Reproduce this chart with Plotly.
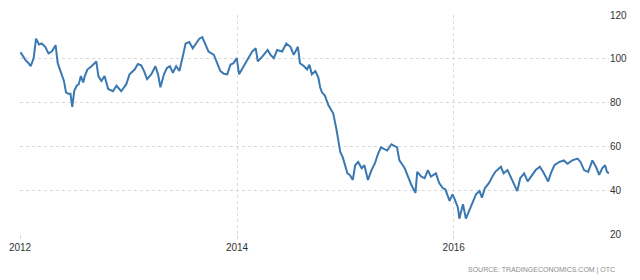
import plotly.graph_objects as go

dates = [
    "2012-01-03", "2012-01-09", "2012-01-19", "2012-01-30", "2012-02-06", "2012-02-16", "2012-02-24",
    "2012-03-05", "2012-03-14", "2012-03-26", "2012-04-06", "2012-04-17", "2012-04-30", "2012-05-07",
    "2012-05-18", "2012-05-28", "2012-06-04", "2012-06-12", "2012-06-19", "2012-06-25", "2012-07-02",
    "2012-07-10", "2012-07-17", "2012-07-24", "2012-08-01", "2012-08-06", "2012-08-15", "2012-08-29",
    "2012-09-14", "2012-09-21", "2012-10-01", "2012-10-12", "2012-10-24", "2012-11-09", "2012-11-21",
    "2012-12-07", "2012-12-24", "2013-01-04", "2013-01-21", "2013-02-01", "2013-02-12", "2013-02-22",
    "2013-03-04", "2013-03-18", "2013-04-01", "2013-04-10", "2013-04-18", "2013-04-30", "2013-05-10",
    "2013-05-20", "2013-05-30", "2013-06-10", "2013-06-21", "2013-07-02", "2013-07-12", "2013-07-24",
    "2013-08-05", "2013-08-16", "2013-08-27", "2013-09-06", "2013-09-17", "2013-09-27", "2013-10-15",
    "2013-10-25", "2013-11-06", "2013-11-18", "2013-11-29", "2013-12-10", "2013-12-20", "2013-12-31",
    "2014-01-08", "2014-01-20", "2014-01-30", "2014-02-10", "2014-02-21", "2014-03-05", "2014-03-12",
    "2014-03-27", "2014-04-14", "2014-04-24", "2014-05-05", "2014-05-16", "2014-06-02", "2014-06-16",
    "2014-06-30", "2014-07-11", "2014-07-25", "2014-08-01", "2014-08-15", "2014-08-25", "2014-09-02",
    "2014-09-10", "2014-09-22", "2014-10-02", "2014-10-08", "2014-10-14", "2014-10-24", "2014-11-05",
    "2014-11-17", "2014-11-21", "2014-12-02", "2014-12-08", "2014-12-15", "2014-12-23", "2014-12-31",
    "2015-01-08", "2015-01-16", "2015-01-26", "2015-02-03", "2015-02-13", "2015-02-25", "2015-03-06",
    "2015-03-18", "2015-03-30", "2015-04-10", "2015-04-21", "2015-05-01", "2015-05-13", "2015-05-22",
    "2015-06-05", "2015-06-16", "2015-06-24", "2015-07-02", "2015-07-20", "2015-07-31", "2015-08-11",
    "2015-08-25", "2015-08-31", "2015-09-14", "2015-09-25", "2015-10-06", "2015-10-16", "2015-11-02",
    "2015-11-13", "2015-11-25", "2015-12-04", "2015-12-18", "2015-12-28", "2016-01-04", "2016-01-15",
    "2016-01-20", "2016-02-01", "2016-02-11", "2016-02-22", "2016-03-04", "2016-03-16", "2016-03-28",
    "2016-04-05", "2016-04-15", "2016-04-29", "2016-05-10", "2016-05-20", "2016-06-08", "2016-06-17",
    "2016-06-30", "2016-07-11", "2016-07-22", "2016-08-02", "2016-08-12", "2016-08-25", "2016-09-06",
    "2016-09-22", "2016-10-03", "2016-10-17", "2016-10-28", "2016-11-14", "2016-11-23", "2016-12-05",
    "2016-12-22", "2017-01-06", "2017-01-18", "2017-02-03", "2017-02-21", "2017-03-03", "2017-03-15",
    "2017-03-29", "2017-04-12", "2017-04-24", "2017-05-05", "2017-05-15", "2017-05-25", "2017-05-31",
    "2017-06-07",
]

prices = [
    103.0, 101.8, 99.5, 98.0, 96.6, 100.3, 109.2,
    106.5, 107.0, 105.5, 102.5, 103.3, 106.2, 98.0,
    93.6, 89.9, 84.7, 84.0, 84.0, 78.0, 85.5,
    87.7, 88.4, 92.1, 89.2, 92.0, 95.1, 96.6,
    98.8, 92.1, 89.9, 92.1, 86.2, 85.2, 87.7,
    85.2, 88.4, 92.9, 95.1, 97.6, 97.0, 94.4,
    90.7, 92.9, 96.6, 92.9, 87.0, 92.9, 95.8,
    96.6, 93.6, 96.6, 94.4, 100.3, 107.0, 107.7,
    104.8, 107.0, 109.2, 109.9, 106.2, 103.3, 101.8,
    98.0, 94.4, 93.2, 92.9, 97.3, 98.0, 100.3,
    92.9, 95.8, 98.0, 101.0, 103.3, 104.8, 98.8,
    101.0, 104.0, 101.8, 100.3, 104.0, 103.3, 107.0,
    105.5, 101.8, 105.5, 98.0, 96.6, 95.1, 97.3,
    92.9, 94.4, 91.4, 87.0, 84.7, 83.2, 78.8,
    75.9, 75.1, 67.7, 63.0, 57.3, 55.1, 51.4,
    47.7, 47.0, 44.7, 51.4, 52.9, 50.0, 51.4,
    44.7, 49.2, 52.1, 56.6, 59.6, 58.8, 58.1,
    61.0, 60.3, 59.6, 53.6, 50.0, 46.2, 42.5,
    38.8, 48.4, 46.2, 45.5, 49.2, 46.2, 47.7,
    43.3, 41.0, 40.3, 35.1, 38.1, 35.9, 32.1,
    27.0, 33.6, 27.0, 30.7, 34.4, 38.1, 39.6,
    36.6, 41.0, 43.3, 46.2, 48.4, 50.7, 47.7,
    49.2, 46.2, 43.3, 39.6, 45.5, 47.7, 44.0,
    47.0, 49.2, 50.7, 48.4, 44.0, 47.7, 51.4,
    52.9, 53.6, 52.1, 53.6, 54.4, 52.9, 49.2,
    48.4, 53.6, 50.7, 47.0, 50.0, 51.4, 48.4,
    47.7,
]

y_ticks = [20, 40, 60, 80, 100, 120]
x_ticks = ["2012-01-01", "2014-01-01", "2016-01-01"]
x_labels = ["2012", "2014", "2016"]
source_text = "SOURCE: TRADINGECONOMICS.COM | OTC"

FONT = "Liberation Sans, Arial, sans-serif"
GRID = "#d9d9d9"

fig = go.Figure()
fig.add_trace(go.Scatter(
    x=dates, y=prices, mode="lines",
    line=dict(color="#3a78b2", width=2),
    hoverinfo="skip",
))

fig.update_layout(
    width=640, height=280,
    margin=dict(l=18, r=31, t=9, b=46),
    paper_bgcolor="white", plot_bgcolor="white",
    showlegend=False,
    font=dict(family=FONT, size=10, color="#333333"),
    xaxis=dict(
        type="date",
        range=["2012-01-01", "2017-06-07"],
        tickmode="array", tickvals=x_ticks, ticktext=x_labels,
        showgrid=True, gridcolor=GRID, griddash="dot", gridwidth=1,
        ticks="outside", ticklen=4, tickcolor=GRID,
        showline=False, zeroline=False,
        tickfont=dict(family=FONT, size=10, color="#333333"),
    ),
    yaxis=dict(
        range=[20, 120], side="right",
        tickmode="array", tickvals=y_ticks,
        showgrid=True, gridcolor=GRID, griddash="dot", gridwidth=1,
        ticks="", showline=False, zeroline=False,
        tickfont=dict(family=FONT, size=10, color="#333333"),
    ),
    annotations=[dict(
        text=source_text, xref="paper", yref="paper",
        x=1.013, y=-0.165, xanchor="right", yanchor="middle",
        showarrow=False,
        font=dict(family=FONT, size=7, color="#8c8c8c"),
    )],
)

fig.write_html("out.html")
